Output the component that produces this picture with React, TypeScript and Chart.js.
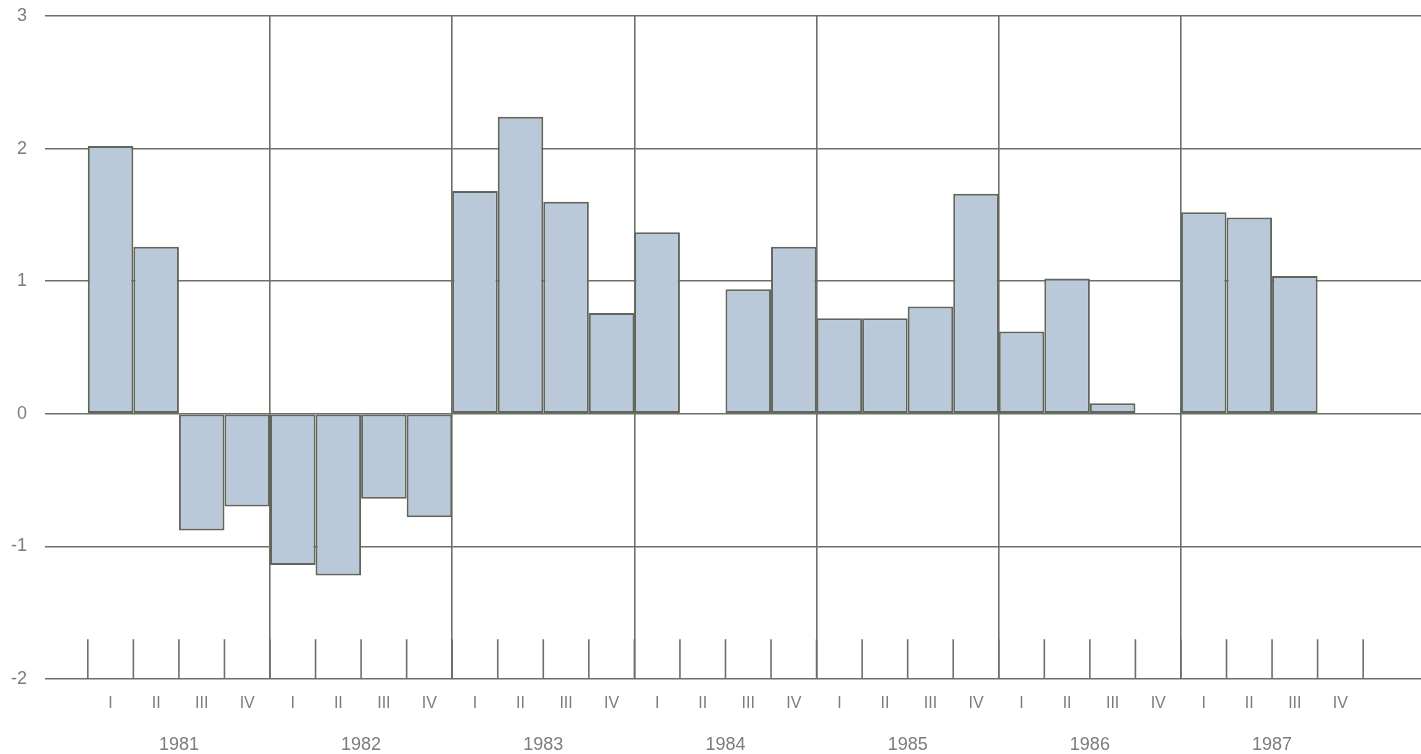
import React, { useEffect, useRef } from "react";
import { Chart, registerables } from "chart.js";

Chart.register(...registerables);

const years = ["1981", "1982", "1983", "1984", "1985", "1986", "1987"];
const quarterLabels = ["I", "II", "III", "IV"];
const values: (number | null)[] = [
  2.02, 1.26, -0.88, -0.7,
  -1.14, -1.22, -0.64, -0.78,
  1.68, 2.24, 1.6, 0.76,
  1.37, null, 0.94, 1.26,
  0.72, 0.72, 0.81, 1.66,
  0.62, 1.02, 0.08, null,
  1.52, 1.48, 1.04, null,
];
const yTickValues = [-2, -1, 0, 1, 2, 3];
const yTickLabels = ["-2", "-1", "0", "1", "2", "3"];

const GRID = "#6c7166";
const TEXT = "#7c7c7c";
const FONT = "'Liberation Sans', Arial, sans-serif";

const quarterCount = years.length * 4;

export default function App() {
  const ref = useRef<HTMLCanvasElement | null>(null);

  useEffect(() => {
    if (!ref.current) return;

    const isYearLine = (v: number) =>
      Number.isInteger(v) && v % 4 === 0 && v > 0 && v < quarterCount;
    const isYearLabel = (v: number) => Number.isInteger(v) && v % 4 === 2;

    const quarterTicksPlugin = {
      id: "quarterTicks",
      afterDraw(chart: any) {
        const x = chart.scales.x;
        const y = chart.scales.y;
        const ctx = chart.ctx;
        ctx.save();
        ctx.strokeStyle = GRID;
        ctx.lineWidth = 1.6;
        const yb = y.getPixelForValue(-2);
        const yt = y.getPixelForValue(-1.7);
        for (let i = 0; i <= quarterCount; i++) {
          const px = x.getPixelForValue(i);
          ctx.beginPath();
          ctx.moveTo(px, yb);
          ctx.lineTo(px, yt);
          ctx.stroke();
        }
        ctx.restore();
      },
    };

    const chart = new Chart(ref.current, {
      type: "bar",
      data: {
        datasets: [
          {
            data: values.map((v, i) => ({ x: i + 0.5, y: v })) as any,
            backgroundColor: "#bac9da",
            borderColor: "#60665c",
            borderWidth: 2,
            borderSkipped: false,
            barPercentage: 2,
            categoryPercentage: 1,
          },
        ],
      },
      options: {
        animation: false,
        responsive: false,
        layout: { padding: { top: 16, right: 0, bottom: 0, left: 0 } },
        plugins: { legend: { display: false }, tooltip: { enabled: false } },
        scales: {
          x: {
            type: "linear",
            min: -0.94,
            max: 29.27,
            offset: false,
            z: 1,
            border: { display: false },
            grid: {
              offset: false,
              drawTicks: false,
              lineWidth: 1.6,
              color: (ctx: any) =>
                ctx.tick && isYearLine(ctx.tick.value) ? GRID : "rgba(0,0,0,0)",
            },
            afterBuildTicks: (scale: any) => {
              const t: number[] = [];
              for (let i = 0; i < quarterCount; i++) t.push(i + 0.5);
              for (let k = 0; k < years.length; k++) t.push(4 * k + 2);
              for (let k = 1; k < years.length; k++) t.push(4 * k);
              t.sort((a, b) => a - b);
              scale.ticks = t.map((v) => ({ value: v }));
            },
            afterFit: (scale: any) => {
              scale.height = 75;
              scale.paddingLeft = 0;
              scale.paddingRight = 0;
            },
            ticks: {
              autoSkip: false,
              maxRotation: 0,
              padding: 15,
              color: TEXT,
              font: (ctx: any) => {
                const v = ctx.tick ? ctx.tick.value : 0;
                return isYearLabel(v)
                  ? { family: FONT, size: 18, lineHeight: 1.9 }
                  : { family: FONT, size: 16, lineHeight: 1.2 };
              },
              callback: (value: any) => {
                const v = Number(value);
                if (isYearLabel(v)) return ["", years[(v - 2) / 4]];
                if (!Number.isInteger(v)) {
                  return quarterLabels[Math.floor(v) % 4];
                }
                return "";
              },
            },
          },
          y: {
            min: -2,
            max: 3,
            z: 1,
            border: { display: false },
            grid: { drawTicks: false, color: GRID, lineWidth: 1.6 },
            afterBuildTicks: (scale: any) => {
              scale.ticks = yTickValues.map((v) => ({ value: v }));
            },
            afterFit: (scale: any) => {
              scale.width = 45;
              scale.paddingTop = 0;
              scale.paddingBottom = 0;
            },
            ticks: {
              padding: 18,
              color: TEXT,
              font: { family: FONT, size: 18 },
              callback: (value: any) => {
                const idx = yTickValues.indexOf(Number(value));
                return idx >= 0 ? yTickLabels[idx] : "";
              },
            },
          },
        },
      },
      plugins: [quarterTicksPlugin],
    });

    return () => chart.destroy();
  }, []);

  return (
    <div style={{ position: "absolute", left: 0, top: 0, width: 1421, height: 754, background: "#fff" }}>
      <canvas ref={ref} width={1421} height={754} style={{ display: "block" }} />
    </div>
  );
}
